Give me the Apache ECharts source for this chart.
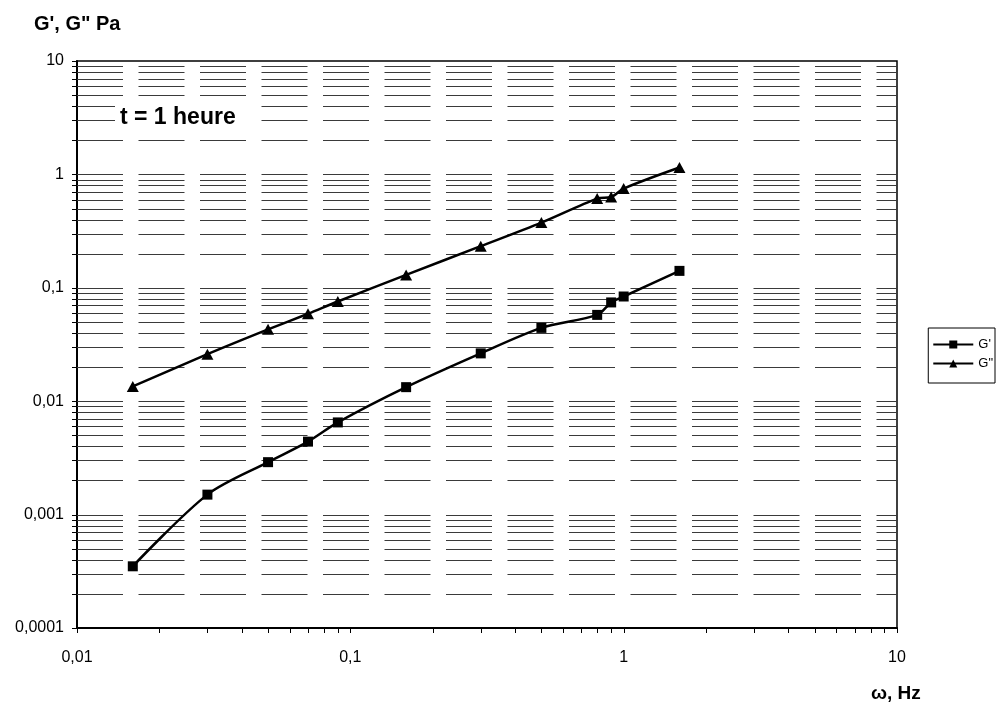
<!DOCTYPE html>
<html>
<head>
<meta charset="utf-8">
<script src="https://cdn.jsdelivr.net/npm/echarts@6/dist/echarts.min.js"></script>
<style>html,body{margin:0;padding:0;background:#fff}#c{width:996px;height:704px}</style>
</head>
<body>
<div id="c"></div>
<script>
// Data
const freqHz  = [0.016, 0.03, 0.05, 0.07, 0.09, 0.16, 0.3, 0.5, 0.8, 0.9, 1.0, 1.6];
const gPrime  = [0.00035, 0.0015, 0.0029, 0.0044, 0.0065, 0.0133, 0.0264, 0.0443, 0.0577, 0.0743, 0.0838, 0.141];
const gSecond = [0.0135, 0.026, 0.043, 0.059, 0.0757, 0.13, 0.233, 0.376, 0.612, 0.632, 0.75, 1.15];
const seriesNames = ["G'", 'G"'];
const xTickLabels = ['0,01', '0,1', '1', '10'];
const yTickLabels = ['0,0001', '0,001', '0,01', '0,1', '1', '10'];
const yTitle = 'G\', G" Pa';
const xTitle = 'ω, Hz';
const note = 't = 1 heure';

const X_MIN = 0.01, X_MAX = 10, Y_MIN = 0.0001, Y_MAX = 10;
const FONT = "'Liberation Sans', Arial, sans-serif";

function logValues(min, max) {
  const out = [];
  const d0 = Math.round(Math.log10(min)), d1 = Math.round(Math.log10(max));
  for (let d = d0; d <= d1; d++) {
    for (let m = 1; m <= 9; m++) {
      const v = m * Math.pow(10, d);
      if (v > max * 1.0001) break;
      out.push(v);
    }
  }
  return out;
}
const yGrid = logValues(Y_MIN, Y_MAX);
const xGrid = logValues(X_MIN, X_MAX);

function decadeLabel(labels, min) {
  return function (v) {
    const i = Math.round(Math.log10(v) - Math.log10(min));
    return labels[i] !== undefined ? labels[i] : '';
  };
}

const chart = echarts.init(document.getElementById('c'), null, {renderer: 'canvas'});
const option = {
  animation: false,
  backgroundColor: '#fff',
  textStyle: {fontFamily: FONT},
  grid: {left: 77, right: 99, top: 61, bottom: 76, show: true, borderColor: '#000', borderWidth: 1.5, backgroundColor: 'transparent'},
  xAxis: {
    type: 'log', logBase: 10, min: X_MIN, max: X_MAX,
    axisLine: {onZero: false, lineStyle: {color: '#000', width: 2}},
    axisTick: {show: false}, splitLine: {show: false}, minorTick: {show: false},
    axisLabel: {margin: 22, fontSize: 16, color: '#000', fontFamily: FONT, formatter: decadeLabel(xTickLabels, X_MIN)}
  },
  yAxis: {
    type: 'log', logBase: 10, min: Y_MIN, max: Y_MAX,
    axisLine: {onZero: false, lineStyle: {color: '#000', width: 2}},
    axisTick: {show: false}, splitLine: {show: false}, minorTick: {show: false},
    axisLabel: {margin: 13, fontSize: 16, color: '#000', fontFamily: FONT, formatter: decadeLabel(yTickLabels, Y_MIN)}
  },
  legend: {
    orient: 'vertical', right: 1, top: 328,
    data: seriesNames,
    borderColor: '#000', borderWidth: 1, borderRadius: 0,
    padding: [10, 2, 13, 4], itemWidth: 40, itemHeight: 10, itemGap: 6,
    textStyle: {fontSize: 13, color: '#000', fontFamily: FONT}
  },
  graphic: [
    {type: 'text', left: 34, top: 14, style: {text: yTitle, font: 'bold 20px ' + FONT, fill: '#000'}},
    {type: 'text', left: 871, top: 684, style: {text: xTitle, font: 'bold 19px ' + FONT, fill: '#000'}},
    {type: 'text', left: 115, top: 100, z: 100, style: {text: note, font: 'bold 23px ' + FONT, fill: '#000', backgroundColor: '#fff', padding: [6, 24, 6, 5]}}
  ],
  series: [
    {
      type: 'custom', name: 'hgrid', silent: true, z: 1,
      data: yGrid.filter(v => v < Y_MAX * 0.999 && v > Y_MIN * 1.001).map(v => [X_MIN, v]),
      renderItem: function (params, api) {
        const p1 = api.coord([X_MIN, api.value(1)]);
        const p2 = api.coord([X_MAX, api.value(1)]);
        const y = Math.round(p1[1]) + 0.5;
        return {type: 'line', shape: {x1: p1[0], y1: y, x2: p2[0], y2: y},
          style: {stroke: '#3a3a3a', lineWidth: 1, lineDash: [46, 15.5]}};
      }
    },
    {
      type: 'custom', name: 'yticks', silent: true, z: 2, clip: false,
      data: yGrid.map(v => [X_MIN, v]),
      renderItem: function (params, api) {
        const p = api.coord([X_MIN, api.value(1)]);
        const y = Math.round(p[1]) + 0.5;
        return {type: 'line', shape: {x1: p[0] - 5, y1: y, x2: p[0], y2: y},
          style: {stroke: '#000', lineWidth: 1}};
      }
    },
    {
      type: 'custom', name: 'xticks', silent: true, z: 2, clip: false,
      data: xGrid.map(v => [v, Y_MIN]),
      renderItem: function (params, api) {
        const p = api.coord([api.value(0), Y_MIN]);
        const x = Math.round(p[0]) + 0.5;
        return {type: 'line', shape: {x1: x, y1: p[1], x2: x, y2: p[1] + 5},
          style: {stroke: '#000', lineWidth: 1}};
      }
    },
    {
      name: seriesNames[0], type: 'line', z: 5,
      data: freqHz.map((x, i) => [x, gPrime[i]]),
      symbol: 'rect', symbolSize: 10, smooth: 0.3,
      lineStyle: {color: '#000', width: 2.5}, itemStyle: {color: '#000'}
    },
    {
      name: seriesNames[1], type: 'line', z: 5,
      data: freqHz.map((x, i) => [x, gSecond[i]]),
      symbol: 'triangle', symbolSize: [12, 11], smooth: 0.3,
      lineStyle: {color: '#000', width: 2.5}, itemStyle: {color: '#000'}
    }
  ]
};
chart.setOption(option);
</script>
</body>
</html>
